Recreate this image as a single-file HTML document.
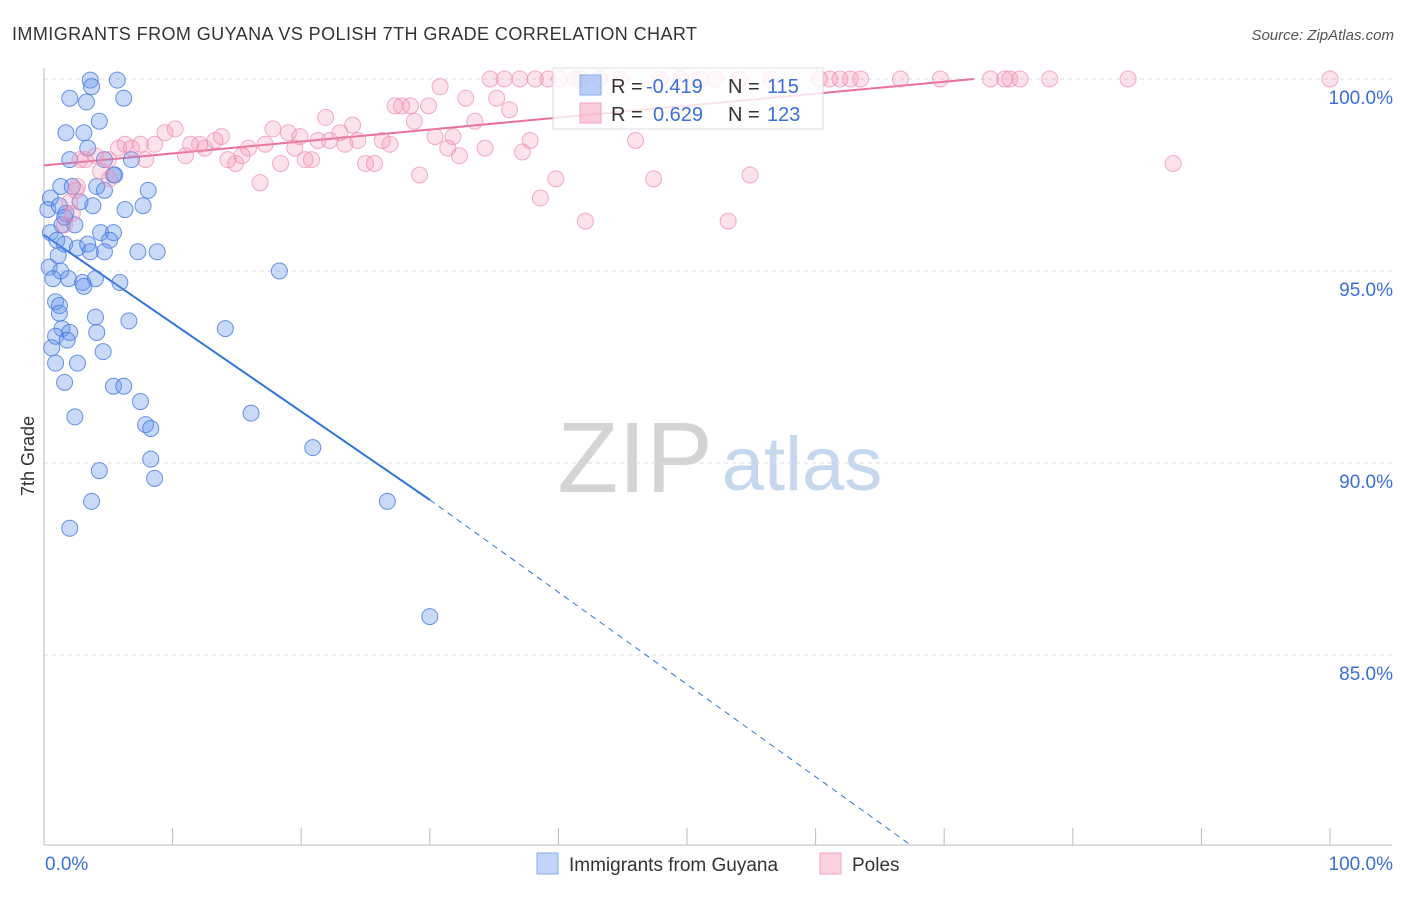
<!DOCTYPE html>
<html><head><meta charset="utf-8"><style>
body{margin:0;background:#fff;font-family:"Liberation Sans",sans-serif;}
svg text{font-family:"Liberation Sans",sans-serif;}
</style></head><body>
<svg id="chart" width="1406" height="892" xmlns="http://www.w3.org/2000/svg">
<text x="12" y="40" font-size="18" fill="#333" textLength="685" lengthAdjust="spacing">IMMIGRANTS FROM GUYANA VS POLISH 7TH GRADE CORRELATION CHART</text>
<text x="1394" y="40" font-size="15" fill="#555" text-anchor="end" font-style="italic">Source: ZipAtlas.com</text>
<g>
<text x="635" y="492" font-size="100" fill="#d4d4d4" font-family="Liberation Serif" text-anchor="middle">ZIP</text>
<text x="802" y="490" font-size="76" fill="#c5d8ee" text-anchor="middle">atlas</text>
</g>
<g id="grid"></g>
<g id="axes"></g>
<g id="trend"></g>
<g id="points"></g>
<text transform="translate(34,456) rotate(-90)" font-size="18" fill="#333" text-anchor="middle">7th Grade</text>
<g>
<rect x="553" y="68" width="270" height="61" fill="rgba(255,255,255,0.8)" stroke="#ddd"/>
<rect x="580" y="75" width="21" height="20" fill="rgba(100,149,237,0.45)" stroke="#88aaee"/>
<text x="611" y="93" font-size="20" fill="#333">R = </text><text x="646" y="93" font-size="20" fill="#3a6fd8">-0.419</text>
<text x="728" y="93" font-size="20" fill="#333">N = </text><text x="767" y="93" font-size="20" fill="#3a6fd8">115</text>
<rect x="580" y="103" width="21" height="20" fill="rgba(245,140,175,0.45)" stroke="#f2a5c0"/>
<text x="611" y="121" font-size="20" fill="#333">R = </text><text x="653" y="121" font-size="20" fill="#3a6fd8">0.629</text>
<text x="728" y="121" font-size="20" fill="#333">N = </text><text x="767" y="121" font-size="20" fill="#3a6fd8">123</text>
</g>
<g>
<rect x="537" y="853" width="21" height="21" fill="rgba(100,149,237,0.4)" stroke="#88aaee"/>
<text x="569" y="871" font-size="19" fill="#333">Immigrants from Guyana</text>
<rect x="820" y="853" width="21" height="21" fill="rgba(245,140,175,0.4)" stroke="#f2a5c0"/>
<text x="852" y="871" font-size="19" fill="#333">Poles</text>
</g>
</svg>
<script>
const blueX=[3.6,5.7,3.7,2.0,3.3,6.2,1.7,3.1,4.3,3.4,2.0,4.7,5.4,4.1,6.8,8.1,1.3,0.5,0.3,1.7,1.4,2.4,3.8,6.3,7.7,4.7,5.5,0.5,1.0,1.6,2.6,3.4,4.4,5.4,5.1,4.7,7.3,8.8,3.6,1.1,0.4,1.3,0.7,1.9,3.0,4.0,5.9,18.3,0.9,1.2,3.1,1.2,1.4,2.0,4.0,4.1,6.6,0.9,1.8,0.6,4.6,0.9,2.6,1.6,5.4,6.2,14.1,7.5,2.4,7.9,8.3,16.1,8.3,20.9,4.3,8.6,3.7,26.7,2.0,30.0,2.2,2.8,1.2,1.6];
const blueY=[99.97,99.97,99.8,99.5,99.4,99.5,98.6,98.6,98.9,98.2,97.9,97.9,97.5,97.2,97.9,97.1,97.2,96.9,96.6,96.5,96.2,96.2,96.7,96.6,96.7,97.1,97.5,96.0,95.8,95.7,95.6,95.7,96.0,96.0,95.8,95.5,95.5,95.5,95.5,95.4,95.1,95.0,94.8,94.8,94.7,94.8,94.7,95.0,94.2,94.1,94.6,93.9,93.5,93.4,93.8,93.4,93.7,93.3,93.2,93.0,92.9,92.6,92.6,92.1,92.0,92.0,93.5,91.6,91.2,91.0,90.9,91.3,90.1,90.4,89.8,89.6,89.0,89.0,88.3,86.0,97.2,96.8,96.7,96.4];
const pinkX=[2.0,2.5,2.6,2.2,1.6,2.8,3.2,4.0,5.0,4.4,5.1,5.8,6.3,6.8,7.5,7.9,8.6,9.4,10.2,11.0,11.4,12.1,12.5,13.3,13.8,14.3,14.9,15.4,15.9,16.8,17.2,17.8,18.4,19.0,19.5,19.9,20.3,20.8,21.3,21.9,22.2,23.0,23.4,24.0,24.4,25.0,25.7,26.3,26.9,27.3,27.8,28.5,28.8,29.2,29.9,30.4,30.8,31.4,31.8,32.3,32.8,33.5,34.3,34.7,35.2,35.8,36.2,37.0,37.2,37.8,38.2,38.6,39.2,39.8,40.1,41.3,42.1,43.2,44.8,46.0,47.4,47.9,49.5,51.0,52.2,53.2,54.1,54.9,56.5,60.3,61.1,61.9,62.7,63.5,66.6,69.7,73.6,74.7,75.1,75.9,78.2,84.3,87.8,100,41.7];
const pinkY=[96.8,97.1,97.2,96.5,96.2,97.9,97.9,98.0,97.9,97.6,97.4,98.2,98.3,98.2,98.3,97.9,98.3,98.6,98.7,98.0,98.3,98.3,98.2,98.4,98.5,97.9,97.8,98.0,98.2,97.3,98.3,98.7,97.8,98.6,98.2,98.5,97.9,97.9,98.4,99.0,98.4,98.6,98.3,98.8,98.4,97.8,97.8,98.4,98.3,99.3,99.3,99.3,98.9,97.5,99.3,98.5,99.8,98.2,98.5,98.0,99.5,98.9,98.2,100.0,99.5,100.0,99.2,100.0,98.1,98.4,100.0,96.9,100.0,97.4,100.0,100.0,96.3,100.0,100.0,98.4,97.4,100.0,100.0,100.0,100.0,96.3,100.0,97.5,100.0,100.0,100.0,100.0,100.0,100.0,100.0,100.0,100.0,100.0,100.0,100.0,100.0,100.0,97.8,100.0,100.0];
const yTicks=[100,95,90,85];
const yTickLabels=["100.0%","95.0%","90.0%","85.0%"];
const xTicks=[0,10,20,30,40,50,60,70,80,90,100];
const blueTrendSolid=[[0,95.94],[30,89.04]];
const blueTrendDash=[[30,89.04],[67.4,80.05]];
const pinkTrend=[[0,97.75],[72.3,100]];

const X=v=>44+v*12.86;
const Y=v=>79+(100-v)*38.4;
const NS="http://www.w3.org/2000/svg";
function mk(tag,attrs,parent){const e=document.createElementNS(NS,tag);for(const k in attrs)e.setAttribute(k,attrs[k]);parent.appendChild(e);return e;}
const grid=document.getElementById('grid'),axes=document.getElementById('axes'),trend=document.getElementById('trend'),pts=document.getElementById('points');
yTicks.forEach((t,i)=>{
 const l=mk('line',{x1:44,x2:1392,y1:Y(t),y2:Y(t),stroke:'#ddd','stroke-dasharray':'4,4'},grid);
 
 
 const tx=mk('text',{x:1393,y:Y(t)+25,'font-size':19,fill:'#3a6fd8','text-anchor':'end'},axes);
 tx.textContent=yTickLabels[i];
 
 
});
let a=mk('line',{x1:44,x2:44,y1:68,y2:845,stroke:'#bbb'},axes);


a=mk('line',{x1:44,x2:1392,y1:845,y2:845,stroke:'#bbb'},axes);


xTicks.forEach(t=>{
 const l=mk('line',{x1:X(t),x2:X(t),y1:828,y2:845,stroke:'#bbb'},axes);
 
 
});
let t0=mk('text',{x:45,y:870,'font-size':19,fill:'#3a6fd8'},axes);t0.textContent='0.0%';


t0=mk('text',{x:1393,y:870,'font-size':19,fill:'#3a6fd8','text-anchor':'end'},axes);t0.textContent='100.0%';


blueX.forEach((x,i)=>{
 const c=mk('circle',{cx:X(x),cy:Y(blueY[i]),r:8,fill:'rgba(100,149,237,0.35)',stroke:'rgba(70,120,225,0.8)','stroke-width':1},pts);
 
 
});
pinkX.forEach((x,i)=>{
 const c=mk('circle',{cx:X(x),cy:Y(pinkY[i]),r:8,fill:'rgba(245,140,175,0.25)',stroke:'rgba(240,140,175,0.7)','stroke-width':1},pts);
 
 
});
let tl=mk('line',{x1:X(blueTrendSolid[0][0]),y1:Y(blueTrendSolid[0][1]),x2:X(blueTrendSolid[1][0]),y2:Y(blueTrendSolid[1][1]),stroke:'#2f74d8','stroke-width':2},trend);


tl=mk('line',{x1:X(blueTrendDash[0][0]),y1:Y(blueTrendDash[0][1]),x2:X(blueTrendDash[1][0]),y2:Y(blueTrendDash[1][1]),stroke:'#2f74d8','stroke-width':1,'stroke-dasharray':'6,5'},trend);


tl=mk('line',{x1:X(pinkTrend[0][0]),y1:Y(pinkTrend[0][1]),x2:X(pinkTrend[1][0]),y2:Y(pinkTrend[1][1]),stroke:'#e8709a','stroke-width':2},trend);


</script>
</body></html>
